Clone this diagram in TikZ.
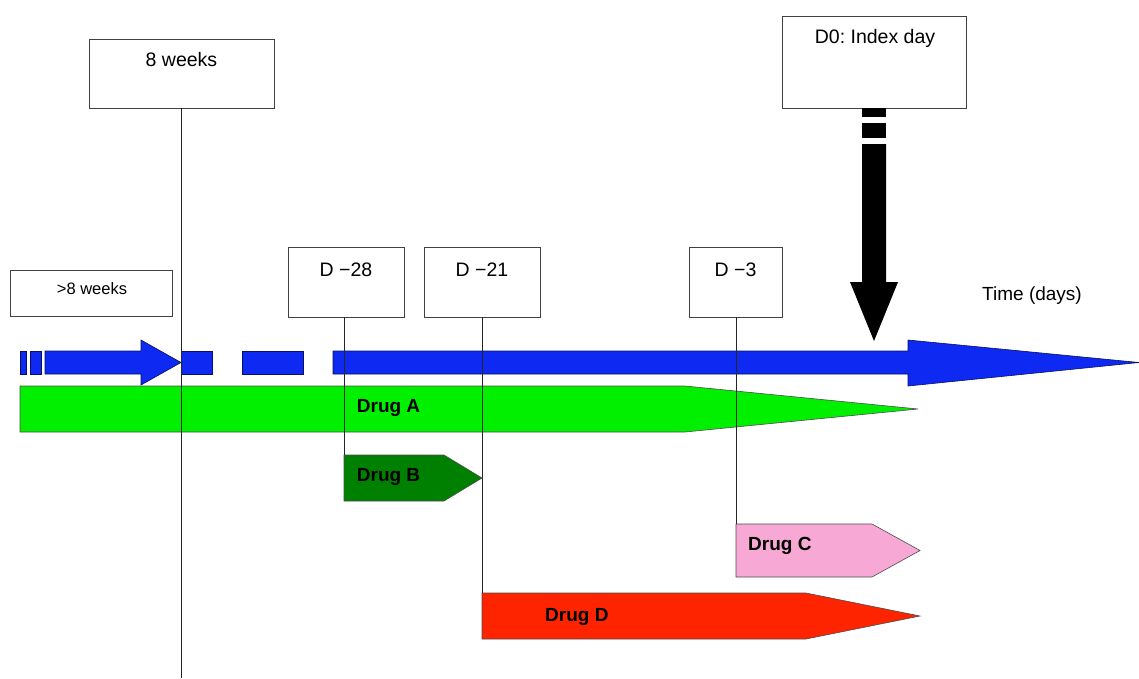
\documentclass[tikz,border=0pt]{standalone}
\usepackage{fontspec}
\setmainfont{Liberation Sans}
\frenchspacing
\definecolor{tblue}{RGB}{14,42,242}
\definecolor{dgreen}{RGB}{0,240,0}
\definecolor{bgreen}{RGB}{0,128,0}
\definecolor{dpink}{RGB}{248,168,212}
\definecolor{dred}{RGB}{255,36,0}
\begin{document}
\begin{tikzpicture}[x=1pt,y=-1pt,
  box/.style={draw=black!75, line width=0.8pt, fill=white, inner sep=0pt},
  lbl/.style={font=\fontsize{19.5}{22}\selectfont, anchor=base, inner sep=0pt},
  druglbl/.style={font=\bfseries\fontsize{19}{22}\selectfont, anchor=base west, inner sep=0pt},
  vline/.style={draw=black!85, line width=1pt},
  outl/.style={draw=black!70, line width=0.6pt},
  bluebar/.style={fill=tblue, draw=black!60!tblue, line width=0.6pt}]
\useasboundingbox (0,0) rectangle (1139,678);

% boxes
\node[box, minimum width=185pt, minimum height=69pt] (w8) at (181.5,73.5) {};
\node[lbl] (w8t) at (181.5,66) {8 weeks};
\node[box, minimum width=184pt, minimum height=92pt] (d0) at (874,62) {};
\node[lbl] (d0t) at (875,43) {D0: Index day};
\node[box, minimum width=162pt, minimum height=46pt] (g8) at (91,293) {};
\node[lbl, font=\fontsize{16.5}{20}\selectfont] (g8t) at (92,294) {>8 weeks};
\node[box, minimum width=116pt, minimum height=70pt] (d28) at (346,282) {};
\node[lbl] (d28t) at (346,276) {D −28};
\node[box, minimum width=116pt, minimum height=70pt] (d21) at (482,282) {};
\node[lbl] (d21t) at (482,276) {D −21};
\node[box, minimum width=93pt, minimum height=70pt] (d3) at (735.5,282) {};
\node[lbl] (d3t) at (735.5,276) {D −3};
\node[lbl, font=\fontsize{19}{22}\selectfont] (time) at (1032,300) {Time (days)};

% blue timeline
\draw[bluebar] (20,351) rectangle (26,374);
\draw[bluebar] (30,351) rectangle (41,374);
\draw[bluebar] (45,351) -- (141,351) -- (141,340) -- (181,362.5) -- (141,385) -- (141,374) -- (45,374) -- cycle;
\draw[bluebar] (181,351) rectangle (212,374);
\draw[bluebar] (242,351) rectangle (303,374);
\draw[bluebar] (333,351) -- (908,351) -- (908,340) -- (1139,362.5) -- (908,386) -- (908,374) -- (333,374) -- cycle;

% drugs
\draw[outl, fill=dgreen] (20,386) -- (685,386) -- (918,409) -- (685,432) -- (20,432) -- cycle;
\draw[outl, fill=bgreen] (344,455) -- (444,455) -- (482,478) -- (444,501) -- (344,501) -- cycle;
\draw[outl, fill=dpink] (736,524) -- (872,524) -- (920,550.5) -- (872,577) -- (736,577) -- cycle;
\draw[outl, fill=dred] (482,593) -- (806,593) -- (920,616) -- (806,639) -- (482,639) -- cycle;

\node[druglbl] (la) at (356.7,412.7) {Drug A};
\node[druglbl] (lb) at (356.7,481.7) {Drug B};
\node[druglbl] (lc) at (748,550.7) {Drug C};
\node[druglbl] (ld) at (545,621) {Drug D};

% connector end points
\coordinate (w8end) at (181.5,678);
\coordinate (bTop) at (344,455);
\coordinate (dTop) at (482,593);
\coordinate (cTop) at (736,524);

% vertical lines
\draw[vline] (w8.south) -- (w8end);
\draw[vline] (bTop |- d28.south) -- (bTop);
\draw[vline] (d21.south) -- (dTop);
\draw[vline] (cTop |- d3.south) -- (cTop);

% index day arrow
\fill[black] (862,108) rectangle (886,117);
\fill[black] (862,123) rectangle (886,138);
\fill[black] (862,144) -- (886,144) -- (886,282) -- (898,282) -- (874,341) -- (850,282) -- (862,282) -- cycle;
\end{tikzpicture}
\end{document}
